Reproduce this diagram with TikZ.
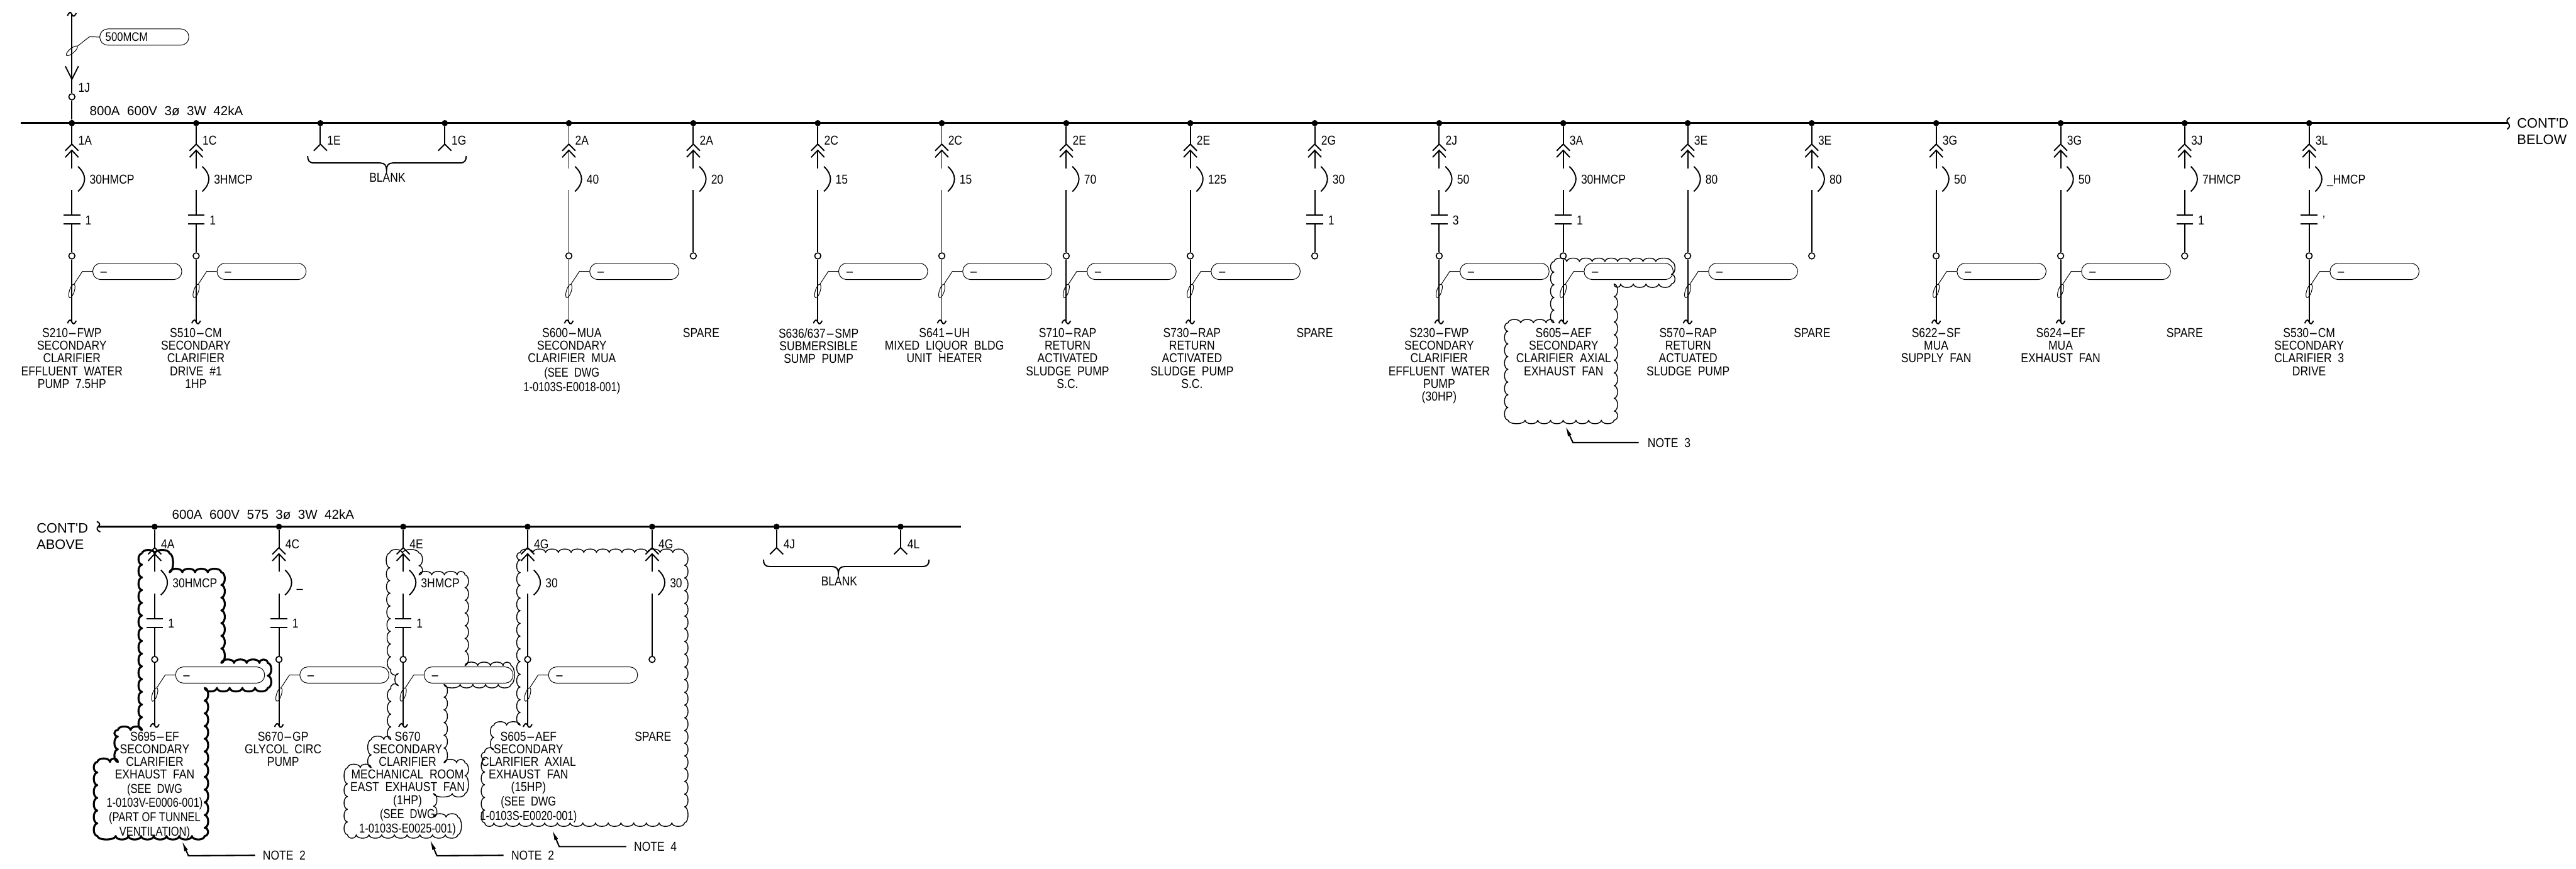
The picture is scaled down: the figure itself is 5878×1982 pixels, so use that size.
\documentclass[tikz,border=0pt]{standalone}
\usepackage{fontspec}
\setmainfont[FakeStretch=0.85]{Liberation Sans}
\newfontfamily\narrowfont[FakeStretch=0.8]{Liberation Sans}
\newfontfamily\contfont{Liberation Sans}
\usetikzlibrary{arrows.meta,decorations,shapes.geometric}

\pgfdeclaredecoration{scallop}{arc}{
	\state{arc}[switch if input segment less than=1.5*\pgfdecorationsegmentlength to rest,
		width=\pgfdecorationsegmentlength]{
		\pgfpathcurveto{\pgfpoint{.05\pgfdecorationsegmentlength}{1.33\pgfdecorationsegmentamplitude}}
			{\pgfpoint{.95\pgfdecorationsegmentlength}{1.33\pgfdecorationsegmentamplitude}}
			{\pgfpoint{\pgfdecorationsegmentlength}{0pt}}
	}
	\state{rest}[width=\pgfdecoratedinputsegmentremainingdistance,next state=arc]{
		\pgfpathcurveto{\pgfpoint{.05*\pgfdecoratedinputsegmentremainingdistance}{1.33\pgfdecorationsegmentamplitude}}
			{\pgfpoint{.95*\pgfdecoratedinputsegmentremainingdistance}{1.33\pgfdecorationsegmentamplitude}}
			{\pgfpoint{\pgfdecoratedinputsegmentremainingdistance}{0pt}}
	}
	\state{final}{\pgfpathlineto{\pgfpointdecoratedpathlast}}
}

\tikzset{
	busline/.style={line width=.04cm},
	feedline/.style={line width=.028cm},
	leadline/.style={line width=.014cm},
	busdot/.style={circle,fill=black,inner sep=0pt,minimum size=.14cm},
	termdot/.style={circle,draw,line width=.024cm,fill=white,inner sep=0pt,minimum size=.14cm},
	cctlabel/.style={anchor=west,inner sep=0pt,text height=.21cm,text depth=0pt,font=\fontsize{8.4}{8.2}\selectfont},
	loadtext/.style={anchor=north,align=center,inner sep=0pt,font=\fontsize{8.4}{8.2}\selectfont},
	contlabel/.style={anchor=west,align=left,inner sep=0pt,font=\contfont\fontsize{8.9}{10.8}\selectfont},
	tagbox/.style={draw,line width=.014cm,anchor=west,rounded corners=.18cm,minimum height=.37cm,inner ysep=0pt,
		inner xsep=.15cm,text width=1.73cm,align=left,text height=.2cm,text depth=0pt,font=\fontsize{8}{8}\selectfont},
	cableoval/.style={ellipse,draw,line width=.014cm,inner sep=0pt,minimum width=.32cm,minimum height=.11cm},
	notearrow/.style={line width=.03cm,-{Latex[length=.24cm,width=.09cm]}},
	cloudline/.style={line width=.02cm,line join=round,decorate,decoration={scallop,segment length=.29cm,amplitude=.08cm}},
	heavycloud/.style={cloudline,line width=.045cm},
}

\newcommand{\nrw}[1]{{\narrowfont #1}}
\newcommand{\hy}{\scalebox{2.5}[1]{-}}
\newcommand{\tildemark}[2]{%
	\draw[feedline] (#1-10,#2+3) .. controls (#1-6,#2-7) and (#1-2,#2-6) .. (#1,#2) .. controls (#1+3,#2+6) and (#1+6,#2+5) .. (#1+10,#2-3);
}
% id, x, bus y, breaker, rating, contactor, tag, text x, text
\newcommand{\feeder}[9]{%
	\node[busdot] (#1dot) at (#2,#3) {};
	\coordinate (#1a) at (#2,#3+48);
	\coordinate (#1b) at (#2,#3+62);
	\coordinate (#1c) at (#2,#3+103);
	\coordinate (#1d) at (#2,#3+152);
	\node[termdot] (#1term) at (#2,#3+303) {};
	\node[cctlabel] (#1cct) at (#2+14,#3+39) {#4};
	\node[cctlabel] (#1rate) at (#2+40,#3+128) {#5};
	\draw[feedline] (#1dot) -- (#1a);
	\draw[feedline] (#2-15,#3+63) -- (#1a) -- (#2+15,#3+63);
	\draw[feedline] (#2-15,#3+78) -- (#1b) -- (#2+15,#3+78);
	\draw[feedline] (#1b) -- (#1c);
	\draw[feedline] (#2+14,#3+99) .. controls (#2+34,#3+118) and (#2+34,#3+137) .. (#2+14,#3+156);
	\def\ctrtext{#6}\ifx\ctrtext\empty
		\draw[feedline] (#1d) -- (#1term);
	\else
		\coordinate (#1p) at (#2,#3+210);
		\coordinate (#1q) at (#2,#3+230);
		\draw[feedline] (#1d) -- (#1p);
		\draw[feedline] (#1q) -- (#1term);
		\draw[feedline] (#2-19,#3+210) -- (#2+19,#3+210);
		\draw[feedline] (#2-19,#3+230) -- (#2+19,#3+230);
		\node[cctlabel] (#1ctr) at (#2+30,#3+221) {#6};
	\fi
	\def\tagtext{#7}\ifx\tagtext\empty\else
		\coordinate (#1end) at (#2,#3+454);
		\coordinate (#1elb) at (#2+24,#3+338.5);
		\node[tagbox] (#1tag) at (#2+47,#3+338.5) {#7};
		\node[cableoval,rotate=72] (#1cab) at (#2,#3+383) {};
		\draw[leadline] (#1cab.east) -- (#1elb) -- (#1tag.west);
		\draw[feedline] (#1term) -- (#1end);
		\tildemark{#2}{#3+454}
	\fi
	\node[loadtext] (#1txt) at (#8,#3+468) {#9};
}
% id, x, bus y, breaker
\newcommand{\blankfeeder}[4]{%
	\node[busdot] (#1dot) at (#2,#3) {};
	\coordinate (#1a) at (#2,#3+48);
	\node[cctlabel] (#1cct) at (#2+15,#3+39) {#4};
	\draw[feedline] (#1dot) -- (#1a);
	\draw[feedline] (#2-15,#3+63) -- (#1a) -- (#2+15,#3+63);
}
% id, left, middle, right, bus y
\newcommand{\blankbrace}[5]{%
	\draw[feedline] (#2,#5+75) .. controls (#2,#5+85) and (#2+4,#5+91) .. (#2+14,#5+91) -- (#3-14,#5+91)
		.. controls (#3-4,#5+91) and (#3,#5+97) .. (#3,#5+107) .. controls (#3,#5+97) and (#3+4,#5+91) .. (#3+14,#5+91)
		-- (#4-14,#5+91) .. controls (#4-4,#5+91) and (#4,#5+85) .. (#4,#5+75);
	\node[loadtext] (#1txt) at (#3+2,#5+114) {BLANK};
}

\begin{document}
\begin{tikzpicture}[x=.01cm,y=-.01cm]
	\useasboundingbox (0,0) rectangle (5878,1982);

	% upper bus
	\coordinate (busAl) at (48,281);
	\coordinate (busAr) at (5722,281);
	\draw[busline] (busAl) -- (busAr);
	\draw[feedline] (5727,268) .. controls (5718,274) and (5720,276) .. (5723,281) .. controls (5727,286) and (5728,290) .. (5721,295);
	\node[contlabel] (contbelow) at (5743,300) {CONT'D\\BELOW};
	\node[cctlabel] (busAtxt) at (204,253) {\contfont 800A\ \ 600V\ \ 3ø\ \ 3W\ \ 42kA};

	% incoming
	\node[busdot] (indot) at (164,281) {};
	\node[termdot] (interm) at (164,221) {};
	\coordinate (intip) at (164,181);
	\coordinate (intop) at (164,33);
	\coordinate (inelb) at (204,84);
	\draw[feedline] (intop) -- (intip);
	\draw[feedline] (149,151) -- (intip) -- (179,151);
	\draw[feedline] (intip) -- (interm);
	\draw[feedline] (interm) -- (indot);
	\tildemark{164}{33}
	\node[cctlabel] (incct) at (178,200) {1J};
	\node[tagbox,inner xsep=.13cm,text width=1.77cm] (intag) at (227,84.5) {500MCM};
	\node[cableoval,rotate=40] (incab) at (164,116) {};
	\draw[leadline] (incab.east) -- (inelb) -- (intag.west);

	\feeder{sA}{164}{281}{1A}{30HMCP}{1}{\hy}{164}{S210\hy FWP\\SECONDARY\\CLARIFIER\\EFFLUENT\ \ WATER\\PUMP\ \ 7.5HP}
	\feeder{sB}{447.6}{281}{1C}{3HMCP}{1}{\hy}{447}{S510\hy CM\\SECONDARY\\CLARIFIER\\DRIVE\ \ \#1\\1HP}
	\blankfeeder{blE}{731}{281}{1E}
	\blankfeeder{blG}{1015}{281}{1G}
	\blankbrace{blA}{702}{882}{1064}{281}
	\feeder{sC}{1298}{281}{2A}{40}{}{\hy}{1305}{S600\hy MUA\\SECONDARY\\CLARIFIER\ \ MUA\\[1pt]\nrw{(SEE\ \ DWG}\\[1pt]\nrw{1-0103S-E0018-001)}}
	\feeder{spA}{1582}{281}{2A}{20}{}{}{1600}{SPARE}
	\feeder{sD}{1866}{281}{2C}{15}{}{\hy}{1868}{S636/637\hy SMP\\SUBMERSIBLE\\SUMP\ \ PUMP}
	\feeder{sE}{2149}{281}{2C}{15}{}{\hy}{2155}{S641\hy UH\\MIXED\ \ LIQUOR\ \ BLDG\\UNIT\ \ HEATER}
	\feeder{sF}{2433}{281}{2E}{70}{}{\hy}{2436}{S710\hy RAP\\RETURN\\ACTIVATED\\SLUDGE\ \ PUMP\\S.C.}
	\feeder{sG}{2716}{281}{2E}{125}{}{\hy}{2720}{S730\hy RAP\\RETURN\\ACTIVATED\\SLUDGE\ \ PUMP\\S.C.}
	\feeder{spB}{3000}{281}{2G}{30}{1}{}{3000}{SPARE}
	\feeder{sH}{3284}{281}{2J}{50}{3}{\hy}{3284}{S230\hy FWP\\SECONDARY\\CLARIFIER\\EFFLUENT\ \ WATER\\PUMP\\(30HP)}
	\feeder{sI}{3567}{281}{3A}{30HMCP}{1}{\hy}{3568}{S605\hy AEF\\SECONDARY\\CLARIFIER\ \ AXIAL\\EXHAUST\ \ FAN}
	\feeder{sJ}{3851}{281}{3E}{80}{}{\hy}{3852}{S570\hy RAP\\RETURN\\ACTUATED\\SLUDGE\ \ PUMP}
	\feeder{spC}{4134}{281}{3E}{80}{}{}{4135}{SPARE}
	\feeder{sK}{4418}{281}{3G}{50}{}{\hy}{4418}{S622\hy SF\\MUA\\SUPPLY\ \ FAN}
	\feeder{sL}{4702}{281}{3G}{50}{}{\hy}{4702}{S624\hy EF\\MUA\\EXHAUST\ \ FAN}
	\feeder{spD}{4985}{281}{3J}{7HMCP}{1}{}{4985}{SPARE}
	\feeder{sM}{5269}{281}{3L}{\_HMCP}{'}{\hy}{5269}{S530\hy CM\\SECONDARY\\CLARIFIER\ \ 3\\DRIVE}

	\draw[cloudline] (3546,597) -- (3814,597) -- (3814,648) -- (3683,648) -- (3683,959) -- (3441,959) -- (3441,737) -- (3546,737) -- cycle;
	\coordinate (tipC) at (3572,972);
	\coordinate (elbC) at (3589,1010);
	\node[cctlabel,inner xsep=.2cm] (noteC) at (3739,1010) {NOTE\ \ 3};
	\draw[notearrow] (noteC.west) -- (elbC) -- (tipC);

	% lower bus
	\coordinate (busBl) at (226,1202);
	\coordinate (busBr) at (2193,1202);
	\draw[busline] (busBl) -- (busBr);
	\draw[feedline] (221,1190) .. controls (230,1195) and (228,1198) .. (224,1202) .. controls (220,1206) and (221,1211) .. (229,1214);
	\node[contlabel] (contabove) at (83,1224) {CONT'D\\ABOVE};
	\node[cctlabel] (busBtxt) at (392,1174) {\contfont 600A\ \ 600V\ \ 575\ \ 3ø\ \ 3W\ \ 42kA};

	\feeder{tA}{353}{1202}{4A}{30HMCP}{1}{\hy}{353}{S695\hy EF\\SECONDARY\\CLARIFIER\\EXHAUST\ \ FAN\\[1pt]\nrw{(SEE\ \ DWG}\\[1pt]\nrw{1-0103V-E0006-001)}\\[1pt]\nrw{(PART OF TUNNEL}\\[1pt]\nrw{VENTILATION)}}
	\feeder{tB}{636.5}{1202}{4C}{\_}{1}{\hy}{646}{S670\hy GP\\GLYCOL\ \ CIRC\\PUMP}
	\feeder{tC}{920}{1202}{4E}{3HMCP}{1}{\hy}{930}{S670\\SECONDARY\\CLARIFIER\\MECHANICAL\ \ ROOM\\EAST\ \ EXHAUST\ \ FAN\\(1HP)\\[1pt]\nrw{(SEE\ \ DWG}\\[1pt]\nrw{1-0103S-E0025-001)}}
	\feeder{tD}{1204}{1202}{4G}{30}{}{\hy}{1206}{S605\hy AEF\\SECONDARY\\CLARIFIER\ \ AXIAL\\EXHAUST\ \ FAN\\(15HP)\\[1pt]\nrw{(SEE\ \ DWG}\\[1pt]\nrw{1-0103S-E0020-001)}}
	\feeder{spE}{1488}{1202}{4G}{30}{}{}{1490}{SPARE}
	\blankfeeder{blJ}{1772}{1202}{4J}
	\blankfeeder{blL}{2055}{1202}{4L}
	\blankbrace{blB}{1742}{1913}{2120}{1202}

	\draw[heavycloud] (324,1263) -- (387,1263) -- (387,1306) -- (505,1306) -- (505,1513) -- (611,1513) -- (611,1570) -- (467,1570) -- (467,1908) -- (222,1908) -- (222,1739) -- (269,1739) -- (269,1666) -- (324,1666) -- cycle;
	\draw[cloudline] (889,1262) -- (956,1262) -- (956,1312) -- (1061,1312) -- (1061,1519) -- (1166,1519) -- (1166,1562) -- (1013,1562) -- (1013,1741) -- (1061,1741) -- (1061,1811) -- (989,1811) -- (989,1865) -- (1045,1865) -- (1045,1905) -- (793,1905) -- (793,1752) -- (847,1752) -- (847,1688) -- (892,1688) -- (892,1572) -- (909,1565) -- (909,1537) -- (892,1528) -- cycle;
	\draw[cloudline] (1187,1261) -- (1562,1261) -- (1562,1878) -- (1106,1878) -- (1106,1717) -- (1127,1712) -- (1127,1655) -- (1187,1655) -- cycle;

	\coordinate (tipA) at (415,1919);
	\coordinate (elbA) at (430,1953);
	\node[cctlabel,inner xsep=.17cm] (noteA) at (582,1952) {NOTE\ \ 2};
	\draw[notearrow] (noteA.west) -- (elbA) -- (tipA);
	\coordinate (tipB) at (981,1916);
	\coordinate (elbB) at (997,1953);
	\node[cctlabel,inner xsep=.17cm] (noteB) at (1149,1952) {NOTE\ \ 2};
	\draw[notearrow] (noteB.west) -- (elbB) -- (tipB);
	\coordinate (tipD) at (1260,1894);
	\coordinate (elbD) at (1276,1932);
	\node[cctlabel,inner xsep=.17cm] (noteD) at (1429,1932) {NOTE\ \ 4};
	\draw[notearrow] (noteD.west) -- (elbD) -- (tipD);
\end{tikzpicture}
\end{document}
